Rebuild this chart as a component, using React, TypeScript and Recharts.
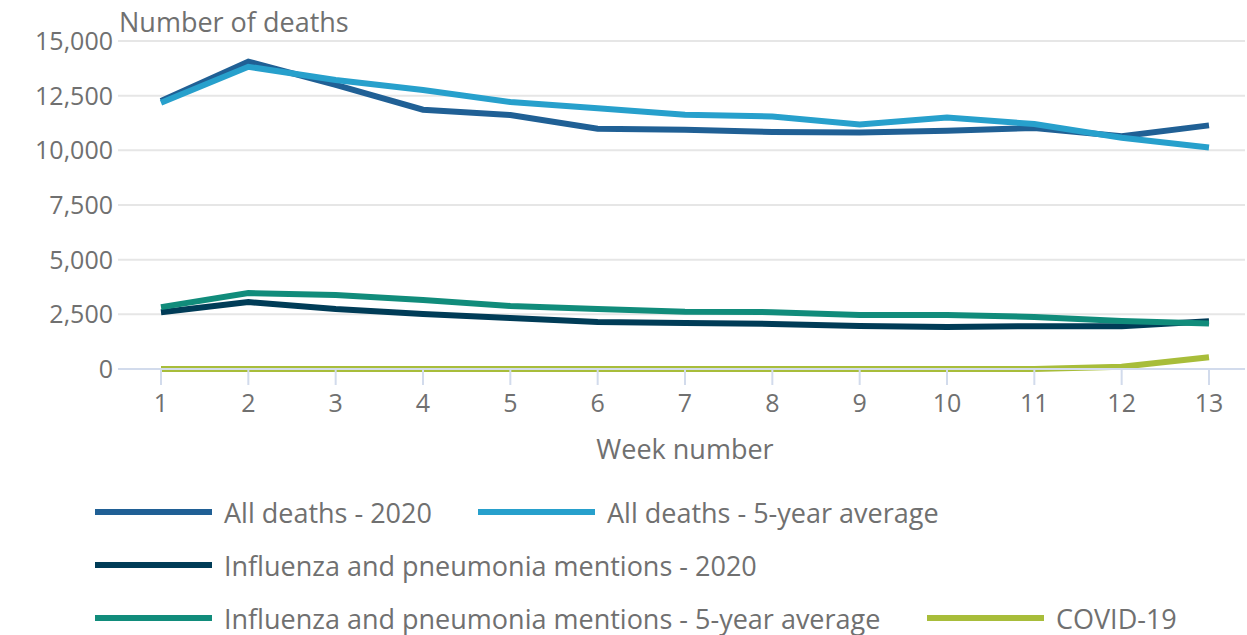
import React from 'react';
import { LineChart, Line, XAxis, YAxis, CartesianGrid, Legend } from 'recharts';

const weeks = ['1', '2', '3', '4', '5', '6', '7', '8', '9', '10', '11', '12', '13'];
const allDeaths2020 = [12254, 14058, 12990, 11856, 11612, 10986, 10944, 10841, 10816, 10895, 11019, 10645, 11141];
const allDeathsAvg = [12175, 13822, 13216, 12760, 12206, 11925, 11627, 11548, 11183, 11498, 11205, 10573, 10130];
const flu2020 = [2600, 3060, 2740, 2510, 2330, 2150, 2100, 2060, 1970, 1920, 1960, 1960, 2180];
const fluAvg = [2830, 3470, 3380, 3150, 2880, 2740, 2620, 2600, 2470, 2470, 2380, 2190, 2080];
const covid = [0, 0, 0, 0, 0, 0, 0, 0, 0, 0, 5, 103, 539];
const yTicks = [0, 2500, 5000, 7500, 10000, 12500, 15000];

const data = weeks.map((w, i) => ({
  week: w,
  all2020: allDeaths2020[i],
  allAvg: allDeathsAvg[i],
  flu2020: flu2020[i],
  fluAvg: fluAvg[i],
  covid: covid[i],
}));

const series = [
  { key: 'all2020', name: 'All deaths - 2020', color: '#206095' },
  { key: 'allAvg', name: 'All deaths - 5-year average', color: '#27a0cc' },
  { key: 'flu2020', name: 'Influenza and pneumonia mentions - 2020', color: '#003c57' },
  { key: 'fluAvg', name: 'Influenza and pneumonia mentions - 5-year average', color: '#118c7b' },
  { key: 'covid', name: 'COVID-19', color: '#a8bd3a' },
];

const textColor = '#707070';
const font = '"Open Sans", sans-serif';

// legend positions (left of swatch, row)
const legendSpots = [
  { x: 95, row: 0 },
  { x: 478, row: 0 },
  { x: 95, row: 1 },
  { x: 95, row: 2 },
  { x: 927, row: 2 },
];

const renderLegend = () => (
  <div style={{ position: 'relative', width: 1247, height: 176 }}>
    {series.map((s, i) => {
      const spot = legendSpots[i];
      const cy = 53 + spot.row * 53;
      return (
        <div key={s.key} style={{ position: 'absolute', left: spot.x, top: cy - 18, height: 36, display: 'flex', alignItems: 'center' }}>
          <div style={{ width: 117, height: 6, background: s.color }} />
          <span style={{ marginLeft: 12, fontSize: 27, color: textColor, fontFamily: font, whiteSpace: 'nowrap' }}>{s.name}</span>
        </div>
      );
    })}
  </div>
);

export default function App() {
  return (
    <div style={{ position: 'absolute', left: 0, top: 0, background: '#fff' }}>
      <LineChart width={1247} height={635} data={data} margin={{ top: 41, right: 2, left: 0, bottom: 0 }}>
        <CartesianGrid vertical={false} stroke="#e6e6e6" strokeWidth={2} />
        <XAxis
          dataKey="week"
          height={90}
          padding={{ left: 43, right: 36 }}
          stroke="#d2dbec"
          strokeWidth={2}
          tickSize={16}
          tickMargin={9}
          tick={{ fill: textColor, fontSize: 25, fontFamily: font }}
          label={{
            content: () => (
              <text x={685} y={459} textAnchor="middle" fill={textColor} fontSize={27} fontFamily={font}>
                Week number
              </text>
            ),
          }}
        />
        <YAxis
          width={118}
          domain={[0, 15000]}
          ticks={yTicks}
          axisLine={false}
          tickLine={false}
          tickSize={1}
          tickMargin={4}
          tickFormatter={(v: number) => v.toLocaleString('en-GB')}
          tick={{ fill: textColor, fontSize: 25, fontFamily: font }}
          label={{
            content: () => (
              <text x={119} y={32} fill={textColor} fontSize={27} fontFamily={font}>
                Number of deaths
              </text>
            ),
          }}
        />
        <Legend verticalAlign="bottom" height={176} content={renderLegend} wrapperStyle={{ left: 0, width: 1247 }} />
        {series.map((s) => (
          <Line
            key={s.key}
            type="linear"
            dataKey={s.key}
            name={s.name}
            stroke={s.color}
            strokeWidth={6}
            dot={false}
            activeDot={false}
            isAnimationActive={false}
          />
        ))}
      </LineChart>
    </div>
  );
}
